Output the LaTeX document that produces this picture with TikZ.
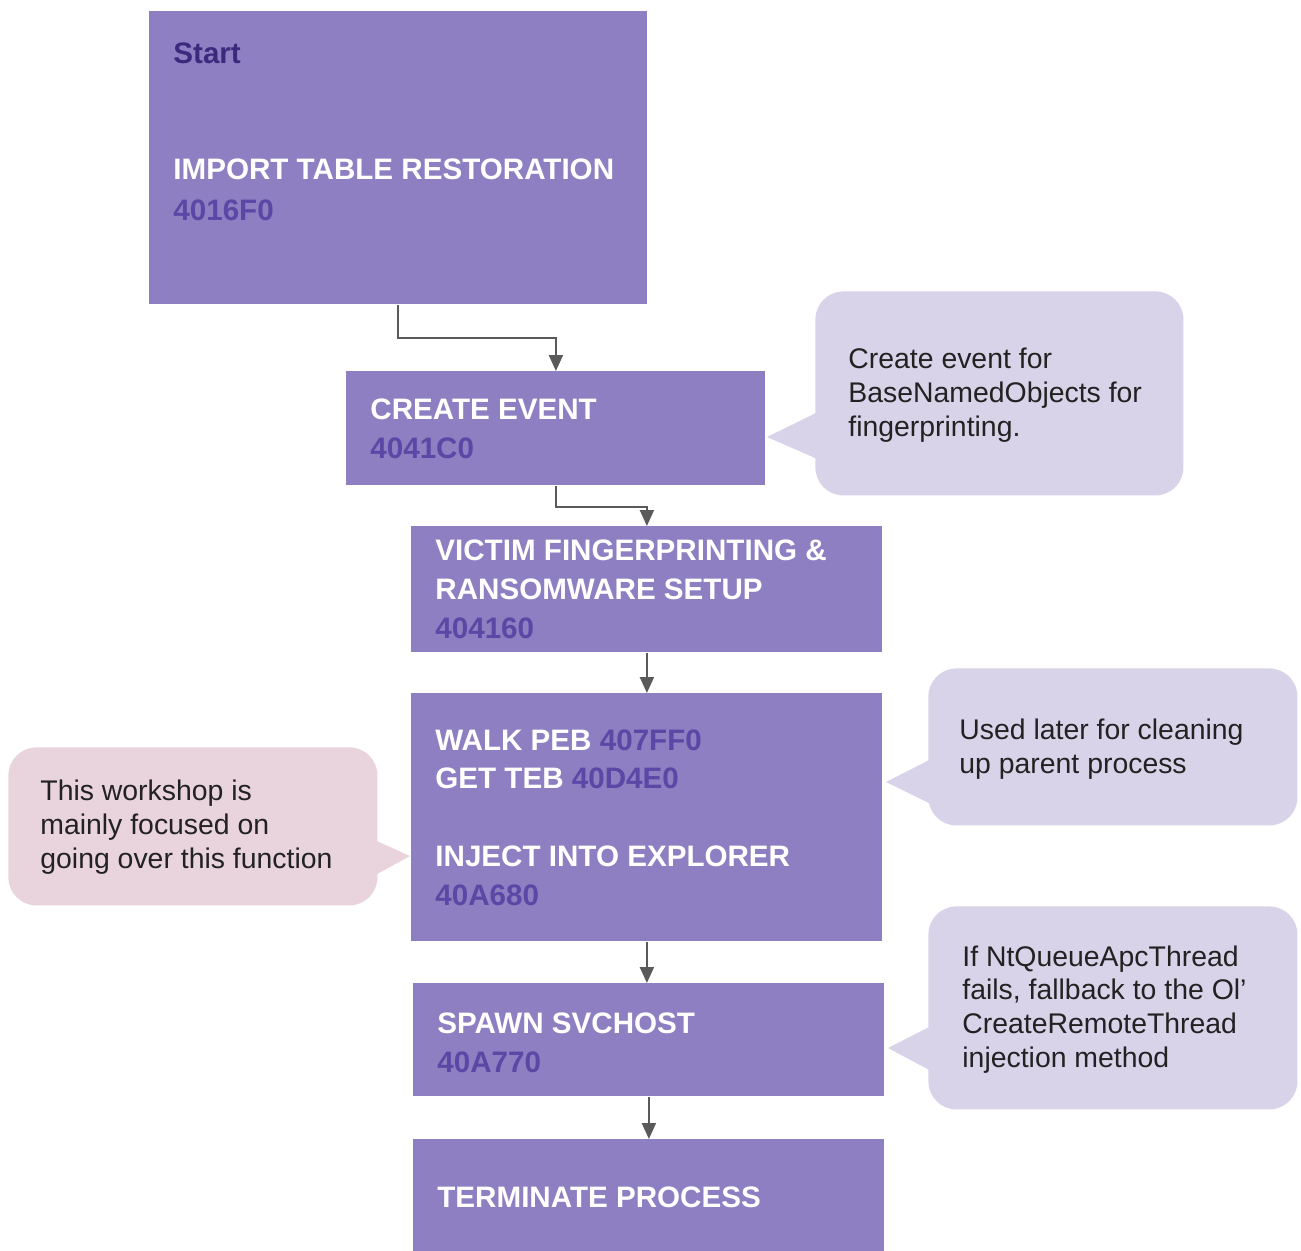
\documentclass[tikz,border=0pt]{standalone}
\usepackage{fontspec}
\setmainfont{Liberation Sans}
\usetikzlibrary{arrows.meta}
\definecolor{boxc}{HTML}{8D7FC1}
\definecolor{codec}{HTML}{5B48A6}
\definecolor{startc}{HTML}{3A2A7E}
\definecolor{callc}{HTML}{D9D3E9}
\definecolor{pinkc}{HTML}{E9D4DD}
\definecolor{arrc}{HTML}{5A5A5A}
\definecolor{txtc}{HTML}{222222}
\begin{document}
\begin{tikzpicture}[x=0.5pt,y=-0.5pt,
  stepbox/.style={fill=boxc,draw=none,inner sep=0pt,anchor=north west},
  boxtext/.style={anchor=base west,inner sep=0pt,align=left,text=white,
    font=\fontsize{14.8pt}{19.3pt}\selectfont\bfseries},
  calltext/.style={anchor=base west,inner sep=0pt,align=left,text=txtc,
    font=\fontsize{14.2pt}{16.8pt}\selectfont},
  bubble/.style={fill=callc,draw=none,rounded corners=14pt,inner sep=0pt,anchor=north west},
  pinkbubble/.style={bubble,fill=pinkc},
  flow/.style={draw=arrc,line width=1pt,-{Triangle[length=8pt,width=7pt]}},
  code/.style={text=codec}]
\useasboundingbox (0,0) rectangle (1301,1250);
\fill[white] (0,0) rectangle (1301,1250);

% main boxes
\node[stepbox,minimum width=249pt,minimum height=146.5pt] (start) at (149,11) {};
\node[stepbox,minimum width=209.5pt,minimum height=57pt] (create) at (346,371) {};
\node[stepbox,minimum width=235.5pt,minimum height=63pt] (victim) at (411,526) {};
\node[stepbox,minimum width=235.5pt,minimum height=124pt] (walk) at (411,693) {};
\node[stepbox,minimum width=235.5pt,minimum height=56.5pt] (spawn) at (413,983) {};
\node[stepbox,minimum width=235.5pt,minimum height=56pt] (term) at (413,1139) {};

% box texts (anchored at the baseline of their last line)
\node[boxtext] (tstart) at (173,220) {\textcolor{startc}{Start}\\[38.6pt]IMPORT TABLE RESTORATION\\[1.2pt]\textcolor{codec}{4016F0}};
\node[boxtext] (tcreate) at (370,458) {CREATE EVENT\\\textcolor{codec}{4041C0}};
\node[boxtext] (tvictim) at (435,638) {VICTIM FINGERPRINTING \&\\RANSOMWARE SETUP\\\textcolor{codec}{404160}};
\node[boxtext] (twalk) at (435,905) {WALK PEB \textcolor{codec}{407FF0}\\GET TEB \textcolor{codec}{40D4E0}\\[19.5pt]INJECT INTO EXPLORER\\\textcolor{codec}{40A680}};
\node[boxtext] (tspawn) at (437,1072) {SPAWN SVCHOST\\\textcolor{codec}{40A770}};
\node[boxtext] (tterm) at (437,1207) {TERMINATE PROCESS};

% connectors
\draw[flow] (start.south) -- ++(0,33) -| (create.north);
\draw[flow] (create.south) -- ++(0,21) -| (victim.north);
\draw[flow] (victim.south) -- (victim.south |- walk.north);
\draw[flow] (walk.south) -- (walk.south |- spawn.north);
\draw[flow] (spawn.south) -- (spawn.south |- term.north);

% callouts
\node[bubble,minimum width=184pt,minimum height=102pt] (c1) at (815,291) {};
\fill[callc] (822,410) -- (767,437) -- (822,461) -- cycle;
\node[calltext] (tc1) at (848,436) {Create event for\\BaseNamedObjects for\\fingerprinting.};

\node[bubble,minimum width=184.5pt,minimum height=78.5pt] (c2) at (928,668) {};
\fill[callc] (935,757) -- (886,782) -- (935,806) -- cycle;
\node[calltext] (tc2) at (959,773) {Used later for cleaning\\up parent process};

\node[bubble,minimum width=184.5pt,minimum height=101.5pt] (c3) at (928,906) {};
\fill[callc] (935,1024) -- (888,1048) -- (935,1073) -- cycle;
\node[calltext] (tc3) at (962,1067) {If NtQueueApcThread\\fails, fallback to the Ol’\\CreateRemoteThread\\injection method};

\node[pinkbubble,minimum width=184.5pt,minimum height=79pt] (c4) at (8,747) {};
\fill[pinkc] (370,838) -- (410,856) -- (370,878) -- cycle;
\node[calltext] (tc4) at (40,868) {This workshop is\\mainly focused on\\going over this function};
\end{tikzpicture}
\end{document}
